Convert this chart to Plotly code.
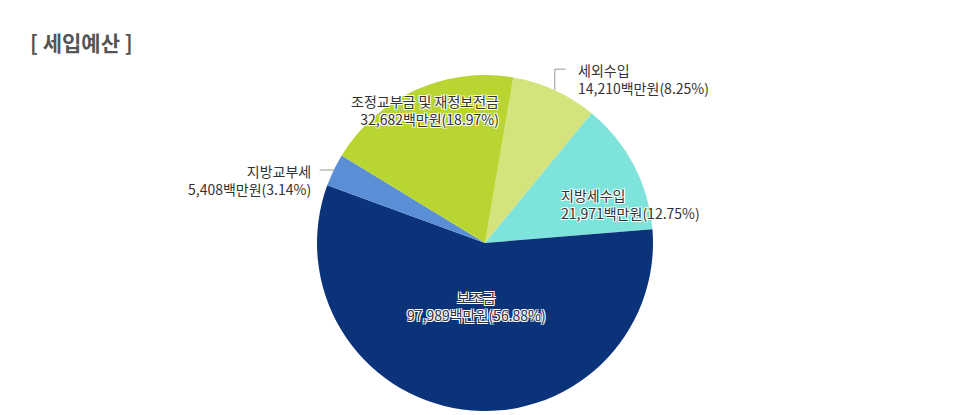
import math
import plotly.graph_objects as go

# 세입예산 (단위: 백만원)
categories = ["세외수입", "지방세수입", "보조금", "지방교부세", "조정교부금 및 재정보전금"]
amounts = [14210, 21971, 97989, 5408, 32682]
shares = [8.25, 12.75, 56.88, 3.14, 18.97]
colors = ["#d4e37b", "#7de3db", "#0b337a", "#5a8fd6", "#b9d532"]

W, H = 970, 415
CX, CY, R = 477, 235, 168      # pie centre / radius in pixels
START = 9.7                    # first slice starts just right of 12 o'clock

# inside labels: (radius factor, x anchor, text align)
# outside labels: connector (rise, run, gap) in px
label_style = [
    dict(out=(-21, 11, 10), align="left"),
    dict(k=0.5, xa="left", align="left"),
    dict(k=0.38, xa="center", align="center"),
    dict(out=(0, -14, 7), align="right"),
    dict(k=0.87, xa="center", align="right"),
]

halo = "-1px -1px 0 #fff, 1px -1px 0 #fff, -1px 1px 0 #fff, 1px 1px 0 #fff"
label_font = dict(family="Noto Sans CJK KR", size=14, color="#333333", shadow=halo)


def polar_px(theta, r):
    t = math.radians(theta)
    return CX + r * math.sin(t), CY - r * math.cos(t)


def px_to_paper(x, y):
    return x / W, 1 - y / H


fig = go.Figure()
fig.add_trace(go.Pie(
    labels=categories,
    values=amounts,
    textinfo="none",
    sort=False,
    direction="clockwise",
    rotation=START,
    marker=dict(colors=colors, line=dict(width=0)),
    domain=dict(x=[(CX - R) / W, (CX + R) / W], y=[1 - (CY + R) / H, 1 - (CY - R) / H]),
    showlegend=False,
    hoverinfo="label+value+percent",
))

# data labels placed from each slice's mid-angle
total = sum(amounts)
cum = 0
for cat, amt, pct, st in zip(categories, amounts, shares, label_style):
    mid = START + (cum + amt / 2) / total * 360
    cum += amt
    text = f"{cat}<br>{amt:,}백만원({pct:.2f}%)"
    if "out" in st:
        rise, run, gap = st["out"]
        px0, py0 = polar_px(mid, R)
        ex, ey = px0, py0 + rise
        fx, fy = ex + run, ey
        pts = [px_to_paper(px0, py0), px_to_paper(ex, ey), px_to_paper(fx, fy)]
        path = "M " + " L ".join(f"{a},{b}" for a, b in pts)
        fig.add_shape(type="path", path=path, xref="paper", yref="paper",
                      line=dict(color="#999999", width=1))
        side = 1 if run > 0 else -1
        tx, ty = px_to_paper(fx + side * gap, fy - 11)
        fig.add_annotation(x=tx, y=ty, xref="paper", yref="paper", text=text,
                           align=st["align"], xanchor="left" if side > 0 else "right",
                           yanchor="top", font=label_font, showarrow=False)
    else:
        tx, ty = px_to_paper(*polar_px(mid, st["k"] * R))
        fig.add_annotation(x=tx, y=ty, xref="paper", yref="paper", text=text,
                           align=st["align"], xanchor=st["xa"], yanchor="middle",
                           font=label_font, showarrow=False)

fig.update_layout(
    width=W,
    height=H,
    margin=dict(l=0, r=0, t=0, b=0),
    paper_bgcolor="#ffffff",
    plot_bgcolor="#ffffff",
    title=dict(
        text="[ 세입예산 ]",
        x=22 / W, xanchor="left", xref="paper",
        y=1 - 36 / H, yanchor="middle", yref="paper",
        font=dict(family="Noto Sans CJK KR", size=21, color="#555555", weight=700),
    ),
)

fig.write_html("out.html")
